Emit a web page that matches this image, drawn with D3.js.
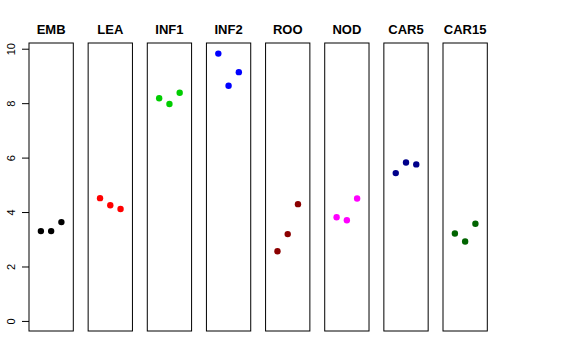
<!DOCTYPE html>
<html>
<head>
<meta charset="utf-8">
<script src="https://cdn.jsdelivr.net/npm/d3@7"></script>
<style>
  body { margin: 0; background: #fff; }
  svg { display: block; font-family: "Liberation Sans", Arial, sans-serif; }
</style>
</head>
<body>
<script>
// data
const categories = ["EMB", "LEA", "INF1", "INF2", "ROO", "NOD", "CAR5", "CAR15"];
const values = [
  [3.30, 3.30, 3.63],
  [4.51, 4.25, 4.11],
  [8.18, 7.97, 8.38],
  [9.82, 8.64, 9.14],
  [2.56, 3.19, 4.29],
  [3.81, 3.70, 4.50],
  [5.43, 5.82, 5.75],
  [3.21, 2.92, 3.57]
];
const colors = ["#000000", "#ff0000", "#00cd00", "#0000ff", "#8b0000", "#ff00ff", "#00008b", "#006400"];
const yTicks = [0, 2, 4, 6, 8, 10];

const svg = d3.select("body").append("svg")
  .attr("width", 576)
  .attr("height", 360);

// panel scale
const xPanel = d3.scaleBand()
  .domain(categories)
  .range([29, 487.3])
  .paddingInner(0.251)
  .paddingOuter(0);

// x inside each panel (replicate 1..3)
const xInner = d3.scaleLinear()
  .domain([-0.16, 4.16])
  .range([0, xPanel.bandwidth()]);

const yScale = d3.scaleLinear()
  .domain([-0.37, 10.21])
  .range([331, 43]);

// y axis on the left
const yAxis = svg.append("g")
  .attr("transform", "translate(29,0)")
  .call(d3.axisLeft(yScale).tickValues(yTicks).tickSize(7).tickPadding(0).tickFormat(d3.format("d")));
yAxis.select(".domain").remove();
yAxis.selectAll(".tick line").attr("stroke", "#000");
yAxis.selectAll(".tick text")
  .attr("x", 0)
  .attr("dy", 0)
  .attr("transform", "translate(-14,0) rotate(-90)")
  .attr("text-anchor", "middle")
  .attr("font-size", 11)
  .attr("font-family", "Liberation Sans, Arial, sans-serif")
  .attr("fill", "#000");

// panels
const panels = svg.selectAll("g.panel")
  .data(categories)
  .enter()
  .append("g")
  .attr("class", "panel")
  .attr("transform", d => `translate(${xPanel(d)},0)`);

panels.append("rect")
  .attr("x", 0)
  .attr("y", yScale.range()[1])
  .attr("width", xPanel.bandwidth())
  .attr("height", yScale.range()[0] - yScale.range()[1])
  .attr("fill", "none")
  .attr("stroke", "#000")
  .attr("stroke-width", 1);

panels.append("text")
  .attr("x", xPanel.bandwidth() / 2)
  .attr("y", 34)
  .attr("text-anchor", "middle")
  .attr("font-weight", "bold")
  .attr("font-size", 13)
  .text(d => d);

panels.each(function(d, i) {
  d3.select(this).selectAll("circle")
    .data(values[i])
    .enter()
    .append("circle")
    .attr("cx", (v, j) => xInner(j + 1))
    .attr("cy", v => yScale(v))
    .attr("r", 3.2)
    .attr("fill", colors[i]);
});
</script>
</body>
</html>
